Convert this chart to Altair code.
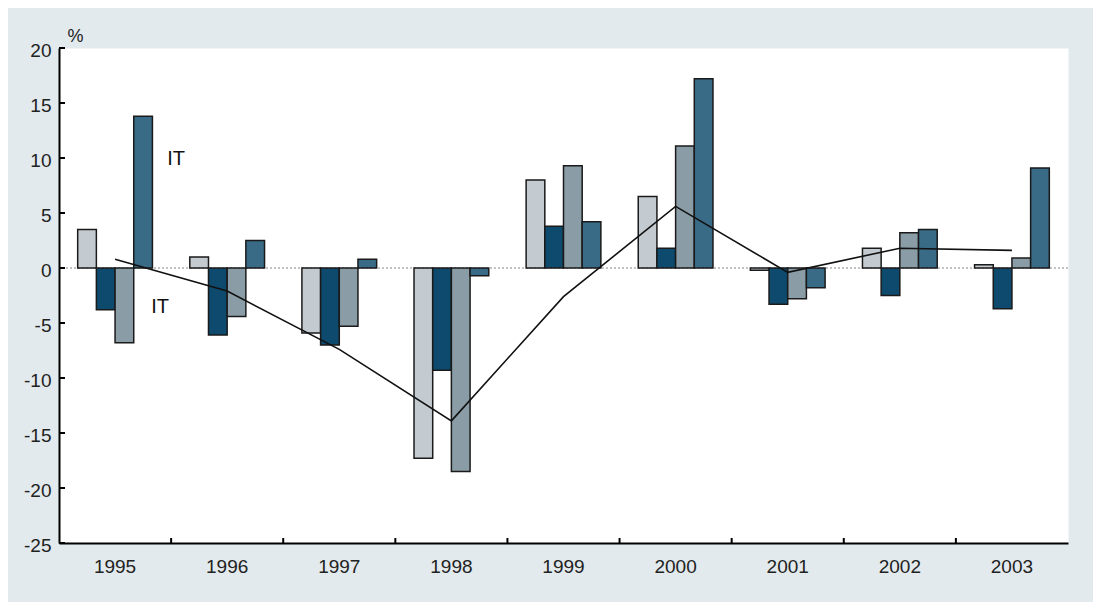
import altair as alt
import pandas as pd

years = ["1995", "1996", "1997", "1998", "1999", "2000", "2001", "2002", "2003"]
quarters = ["Q1", "Q2", "Q3", "Q4"]
q1 = [3.5, 1.0, -5.9, -17.3, 8.0, 6.5, -0.2, 1.8, 0.3]
q2 = [-3.8, -6.1, -7.0, -9.3, 3.8, 1.8, -3.3, -2.5, -3.7]
q3 = [-6.8, -4.4, -5.3, -18.5, 9.3, 11.1, -2.8, 3.2, 0.9]
q4 = [13.8, 2.5, 0.8, -0.7, 4.2, 17.2, -1.8, 3.5, 9.1]
annual = [0.8, -2.1, -7.4, -13.9, -2.6, 5.6, -0.4, 1.8, 1.6]
y_ticks = [-25, -20, -15, -10, -5, 0, 5, 10, 15, 20]
boundary_years = years[1:]
label_text = ["IT", "IT"]
label_year = ["1995", "1995"]
label_value = [9.9, -3.5]

colors = ["#c3cbd0", "#0e4a6d", "#8a9da6", "#3a6b86"]

rows = []
for i, yr in enumerate(years):
    for q, vals in zip(quarters, [q1, q2, q3, q4]):
        rows.append({"year": yr, "quarter": q, "value": vals[i]})
bars_df = pd.DataFrame(rows)
line_df = pd.DataFrame({"year": years, "value": annual})
ytick_df = pd.DataFrame({"v": y_ticks})
xtick_df = pd.DataFrame({"year": boundary_years})
lab_df = pd.DataFrame({"text": label_text, "year": label_year, "value": label_value})

FONT = "Liberation Sans"
FS = 19
W, H = 1009, 495

xscale = alt.Scale(paddingInner=0, paddingOuter=0)
yscale = alt.Scale(domain=[-25, 20], nice=False, zero=False)

bars = alt.Chart(bars_df).mark_bar(stroke="#1a1a1a", strokeWidth=1.5).encode(
    x=alt.X("year:N", scale=xscale, sort=years,
            axis=alt.Axis(title=None, labelAngle=0, ticks=False, domain=True,
                          domainColor="black", domainWidth=2,
                          labelFont=FONT, labelFontSize=FS, labelColor="#222",
                          labelPadding=14)),
    xOffset=alt.XOffset("quarter:N", sort=quarters,
                        scale=alt.Scale(paddingInner=0, paddingOuter=1.0)),
    y=alt.Y("value:Q", scale=yscale,
            axis=alt.Axis(values=y_ticks, grid=False, ticks=False,
                          labelExpr="toString(datum.value)",
                          domain=True, domainColor="black", domainWidth=2,
                          labelFont=FONT, labelFontSize=FS, labelColor="#222",
                          labelPadding=8, labelBaseline="middle", labelOffset=2,
                          title="%", titleAngle=0, titleX=8, titleY=-3,
                          titleAlign="left", titleBaseline="bottom",
                          titleFont=FONT, titleFontSize=18,
                          titleFontWeight="normal", titleColor="#222")),
    color=alt.Color("quarter:N", sort=quarters,
                    scale=alt.Scale(domain=quarters, range=colors), legend=None),
)

zero = alt.Chart(pd.DataFrame({"v": [0]})).mark_rule(
    color="#888", strokeWidth=1, strokeDash=[2, 2]
).encode(y=alt.Y("v:Q", scale=yscale))

line = alt.Chart(line_df).mark_line(color="#111", strokeWidth=1.6).encode(
    x=alt.X("year:N", sort=years),
    y=alt.Y("value:Q", scale=yscale),
)

yticks = alt.Chart(ytick_df).mark_rule(color="black", strokeWidth=2).encode(
    y=alt.Y("v:Q", scale=yscale),
    x=alt.value(0),
    x2=alt.value(6),
)

xticks = alt.Chart(xtick_df).mark_rule(color="black", strokeWidth=2).encode(
    x=alt.X("year:N", sort=years, bandPosition=0),
    y=alt.value(H),
    y2=alt.value(H - 5),
)

lab1 = alt.Chart(lab_df.iloc[[0]]).mark_text(
    font=FONT, fontSize=20, color="#111", align="center", dx=61
).encode(x=alt.X("year:N", sort=years), y=alt.Y("value:Q", scale=yscale), text="text:N")

lab2 = alt.Chart(lab_df.iloc[[1]]).mark_text(
    font=FONT, fontSize=20, color="#111", align="center", dx=45
).encode(x=alt.X("year:N", sort=years), y=alt.Y("value:Q", scale=yscale), text="text:N")

chart = alt.layer(zero, bars, line, yticks, xticks, lab1, lab2).properties(
    width=W, height=H,
    autosize=alt.AutoSizeParams(type="none"),
    padding={"left": 51, "top": 40, "right": 25, "bottom": 59},
    background="#e3eaed",
).configure_view(fill="white", stroke="transparent")

chart.save("out.html", embed_options={"renderer": "svg", "actions": False})
